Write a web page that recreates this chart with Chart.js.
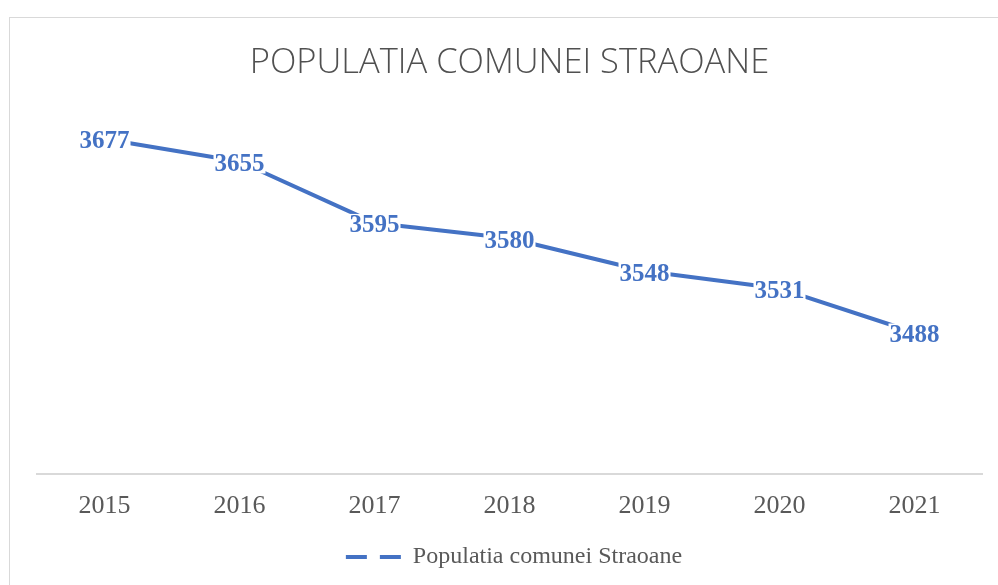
<!DOCTYPE html>
<html>
<head>
<meta charset="utf-8">
<script src="https://cdn.jsdelivr.net/npm/chart.js@4.4.0/dist/chart.umd.min.js"></script>
<style>
  html, body { margin: 0; padding: 0; background: #fff; overflow: hidden; }
  #wrap { position: relative; width: 998px; height: 585px; }
  #frame {
    position: absolute; left: 9px; top: 17px; width: 1010px; height: 600px;
    border: 1px solid #d9d9d9; pointer-events: none;
  }
</style>
</head>
<body>
<div id="wrap">
  <canvas id="popChart" width="998" height="585"></canvas>
  <div id="frame"></div>
</div>
<script>
const years = ['2015', '2016', '2017', '2018', '2019', '2020', '2021'];
const population = [3677, 3655, 3595, 3580, 3548, 3531, 3488];
const seriesName = 'Populatia comunei Straoane';
const chartTitle = 'POPULATIA COMUNEI STRAOANE';

const blue = '#4472C4';
const grey = '#595959';

// value labels drawn on top of each point, with a white box behind
const pointLabels = {
  id: 'pointLabels',
  afterDatasetsDraw(chart) {
    const ctx = chart.ctx;
    const meta = chart.getDatasetMeta(0);
    ctx.save();
    ctx.font = 'bold 25px "Liberation Serif"';
    ctx.textAlign = 'center';
    ctx.textBaseline = 'middle';
    meta.data.forEach(function (pt, i) {
      const txt = String(population[i]);
      const w = ctx.measureText(txt).width;
      ctx.fillStyle = '#ffffff';
      ctx.fillRect(pt.x - w / 2 - 1, pt.y - 9, w + 2, 21);
      ctx.fillStyle = blue;
      ctx.fillText(txt, pt.x, pt.y + 3);
    });
    ctx.restore();
  }
};

document.addEventListener('DOMContentLoaded', function () {
  const ctx = document.getElementById('popChart').getContext('2d');

  new Chart(ctx, {
    type: 'line',
    data: {
      labels: years,
      datasets: [{
        label: seriesName,
        data: population,
        borderColor: blue,
        backgroundColor: blue,
        borderWidth: 4,
        borderCapStyle: 'round',
        borderJoinStyle: 'round',
        pointRadius: 0,
        tension: 0,
        fill: false,
      }]
    },
    options: {
      responsive: false,
      animation: false,
      layout: { padding: { left: 37, right: 16, top: 42, bottom: 6 } },
      scales: {
        x: {
          offset: true,
          grid: { display: false, drawTicks: false },
          border: { display: true, color: '#d9d9d9', width: 2 },
          ticks: {
            color: grey,
            padding: 17,
            font: { family: '"Liberation Serif"', size: 26 },
          },
        },
        y: {
          display: false,
          min: 3350,
          max: 3700,
        },
      },
      plugins: {
        title: {
          display: true,
          text: chartTitle,
          color: '#505050',
          font: { family: '"Open Sans"', size: 34.5, weight: '300' },
          padding: { top: 0, bottom: 32 },
        },
        legend: {
          position: 'bottom',
          labels: {
            color: grey,
            font: { family: '"Liberation Serif"', size: 24 },
            usePointStyle: true,
            pointStyle: 'line',
            pointStyleWidth: 64,
            boxHeight: 4,
            padding: 6,
            generateLabels: function (chart) {
              const items = Chart.defaults.plugins.legend.labels.generateLabels(chart);
              items.forEach(function (it) {
                // gap 9, dash 21, gap 13, dash 21
                it.lineDash = [21, 13, 21, 30];
                it.lineDashOffset = 76;
                it.lineWidth = 4;
                it.lineCap = 'butt';
              });
              return items;
            },
          },
        },
        tooltip: { enabled: false },
      },
    },
    plugins: [pointLabels],
  });
});
</script>
</body>
</html>
